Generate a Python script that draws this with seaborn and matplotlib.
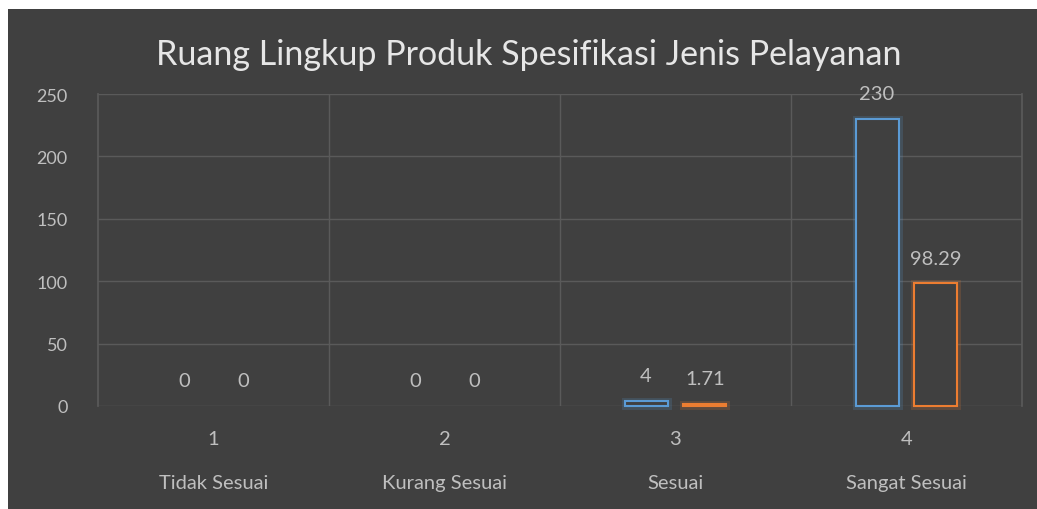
import matplotlib
matplotlib.use("Agg")
import matplotlib.pyplot as plt
import matplotlib.patheffects as pe
from matplotlib.patches import Rectangle
import seaborn as sns
import pandas as pd

categories = ["1\n\nTidak Sesuai", "2\n\nKurang Sesuai", "3\n\nSesuai", "4\n\nSangat Sesuai"]
series_names = ["Jumlah", "Persentase"]
jumlah = [0, 0, 4, 230]
persentase = [0, 0, 1.71, 98.29]
title = "Ruang Lingkup Produk Spesifikasi Jenis Pelayanan"

df = pd.DataFrame({
    "cat": categories * 2,
    "series": [series_names[0]] * 4 + [series_names[1]] * 4,
    "value": jumlah + persentase,
})

BG = "#404040"
TXT = "#BFBFBF"
GRID = "#5A5A5A"
FONT = ["Lato", "DejaVu Sans"]

sns.set_theme(style="dark")
plt.rcParams["font.family"] = FONT

fig = plt.figure(figsize=(10.37, 5.10), dpi=100, facecolor="white")
fig.patches.append(Rectangle((8 / 1037, 0), 1, 500 / 510, transform=fig.transFigure,
                             facecolor=BG, edgecolor="none", zorder=-10))
ax = fig.add_axes([98 / 1037, 103 / 510, 924 / 1037, 312 / 510])
ax.set_facecolor(BG)

colors = ["#5B9BD5", "#ED7D31"]
sns.barplot(data=df, x="cat", y="value", hue="series", order=categories,
            hue_order=series_names, palette=colors,
            width=0.51, gap=0.27, ax=ax, legend=False, errorbar=None)

for cont, col in zip(ax.containers, colors):
    for p in cont.patches:
        p.set_facecolor(BG)
        p.set_edgecolor(col)
        p.set_linewidth(1.5)
        p.set_clip_on(False)
        p.set_path_effects([pe.Stroke(linewidth=5, foreground=col, alpha=0.18), pe.Normal()])
        if p.get_height() == 0:
            p.set_linewidth(0)
            p.set_path_effects([])
    ax.bar_label(cont, labels=[f"{v:g}" for v in cont.datavalues], padding=12,
                 color=TXT, fontsize=14.5, family=FONT)

ax.set_ylim(0, 250)
ax.set_yticks([0, 50, 100, 150, 200, 250])
ax.set_xlim(-0.5, 3.5)
ax.grid(True, axis="y", color=GRID, linewidth=1)
ax.set_xticks([0.5, 1.5, 2.5], minor=True)
ax.grid(False, axis="x", which="major")
ax.grid(True, axis="x", which="minor", color=GRID, linewidth=1)
ax.tick_params(axis="x", which="minor", length=0)
ax.set_axisbelow(True)
for s in ax.spines.values():
    s.set_visible(False)
ax.spines["left"].set_visible(True)
ax.spines["left"].set_color(GRID)
ax.spines["right"].set_visible(True)
ax.spines["right"].set_color(GRID)

ax.tick_params(axis="y", colors=TXT, labelsize=13, length=0, pad=22)
ax.tick_params(axis="x", colors=TXT, labelsize=14.5, length=0, pad=17)
for lbl in ax.get_xticklabels():
    lbl.set_linespacing(1.38)
ax.set_xlabel("")
ax.set_ylabel("")

fig.text(529 / 1037, 1 - 55 / 510, title, ha="center", va="center", color="#E6E6E6",
         fontsize=24.5, family=FONT)

fig.savefig("out.png", dpi=100, facecolor=fig.get_facecolor())
